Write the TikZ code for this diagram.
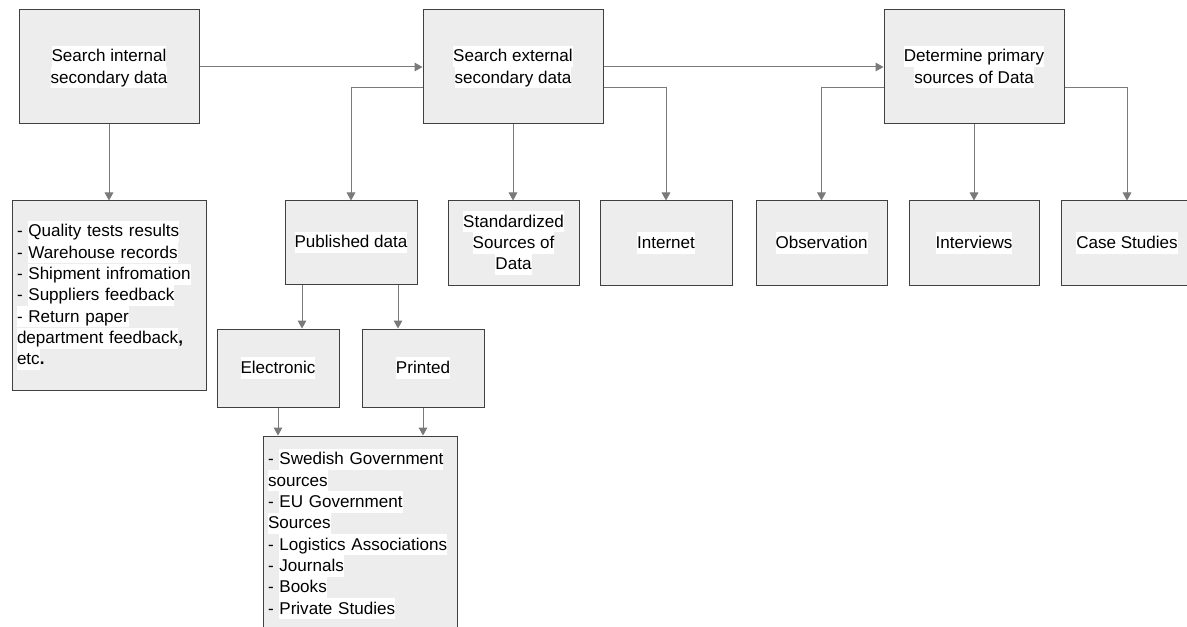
\documentclass[tikz,border=0pt]{standalone}
\usepackage{fontspec}
\setmainfont{Liberation Sans}
\usetikzlibrary{arrows.meta,calc}
\definecolor{boxfill}{HTML}{EDEDED}
\definecolor{boxline}{HTML}{404040}
\definecolor{conn}{HTML}{7A7A7A}
\newcommand\hlw[1]{{\setlength{\fboxsep}{0pt}\colorbox{white}{\rule[-3.8pt]{0pt}{15.8pt}#1}}}
\begin{document}
\begin{tikzpicture}[x=0.75pt,y=-0.75pt,
  every node/.style={font=\fontsize{12.8pt}{16pt}\selectfont},
  box/.style={draw=boxline,fill=boxfill,line width=0.75pt,inner sep=0pt,align=center},
  listbox/.style={draw=boxline,fill=boxfill,line width=0.75pt,inner ysep=0pt,inner xsep=3.75pt,align=left},
  bw/.style={minimum width=#1*0.75pt},
  bh/.style={minimum height=#1*0.75pt},
  tw/.style={text width=#1*0.75pt},
  conn/.style={draw=conn,line width=0.75pt,-{Triangle[length=6pt,width=6.5pt]}}]
\useasboundingbox (0,0) rectangle (1187,627);
% top row
\node[box,bw=180,bh=114] (A) at (109,67) {\hlw{Search internal}\\\hlw{secondary data}};
\node[box,bw=180,bh=114] (B) at (513,67) {\hlw{Search external}\\\hlw{secondary data}};
\node[box,bw=180,bh=114] (C) at (974,67) {\hlw{Determine primary}\\\hlw{sources of Data}};
% second row
\node[listbox,bw=194,bh=189,tw=184] (L1) at (109,295.5) {-\ \hlw{Quality tests results}\\-\ \hlw{Warehouse records}\\-\ \hlw{Shipment infromation}\\-\ \hlw{Suppliers feedback}\\\hlw{- Return paper}\\\hlw{department feedback}\textbf{,}\\\hlw{etc}\textbf{.}};
\node[box,bw=132,bh=83] (Pub) at (351,242.5) {\hlw{Published data}};
\node[box,bw=131,bh=84] (Std) at (513.5,243) {\hlw{Standardized}\\\hlw{Sources of}\\\hlw{Data}};
\node[box,bw=132,bh=84] (Int) at (666,243) {\hlw{Internet}};
\node[box,bw=131,bh=84] (Obs) at (821.5,243) {\hlw{Observation}};
\node[box,bw=130,bh=84] (Intv) at (974,243) {\hlw{Interviews}};
\node[box,bw=132,bh=84] (Case) at (1127,243) {\hlw{Case Studies}};
% third row
\node[box,bw=122,bh=78] (Elec) at (278,368) {\hlw{Electronic}};
\node[box,bw=122,bh=78] (Prnt) at (423,368) {\hlw{Printed}};
% bottom list
\node[listbox,bw=194,bh=196,tw=184] (L2) at (360,534) {-\ \hlw{Swedish Government}\\\hlw{sources}\\-\ \hlw{EU Government}\\\hlw{Sources}\\-\ \hlw{Logistics Associations}\\-\ \hlw{Journals}\\-\ \hlw{Books}\\-\ \hlw{Private Studies}};
% connector start points
\coordinate (pe) at ($(Pub.south)+(-49,0)$);
\coordinate (pp) at ($(Pub.south)+(47,0)$);
\coordinate (bw) at ($(B.west)+(0,21)$);
\coordinate (be) at ($(B.east)+(0,21)$);
\coordinate (cw) at ($(C.west)+(0,21)$);
\coordinate (ce) at ($(C.east)+(0,21)$);
% connectors
\draw[conn] (A) -- (B);
\draw[conn] (B) -- (C);
\draw[conn] (A) -- (L1);
\draw[conn] (bw) -| (Pub.north);
\draw[conn] (B.south) -- (B.south |- Std.north);
\draw[conn] (be) -| (Int.north);
\draw[conn] (cw) -| (Obs.north);
\draw[conn] (C) -- (Intv);
\draw[conn] (ce) -| (Case.north);
\draw[conn] (pe) -- (pe |- Elec.north);
\draw[conn] (pp) -- (pp |- Prnt.north);
\draw[conn] (Elec.south) -- (Elec.south |- L2.north);
\draw[conn] (Prnt.south) -- (Prnt.south |- L2.north);
\end{tikzpicture}
\end{document}
